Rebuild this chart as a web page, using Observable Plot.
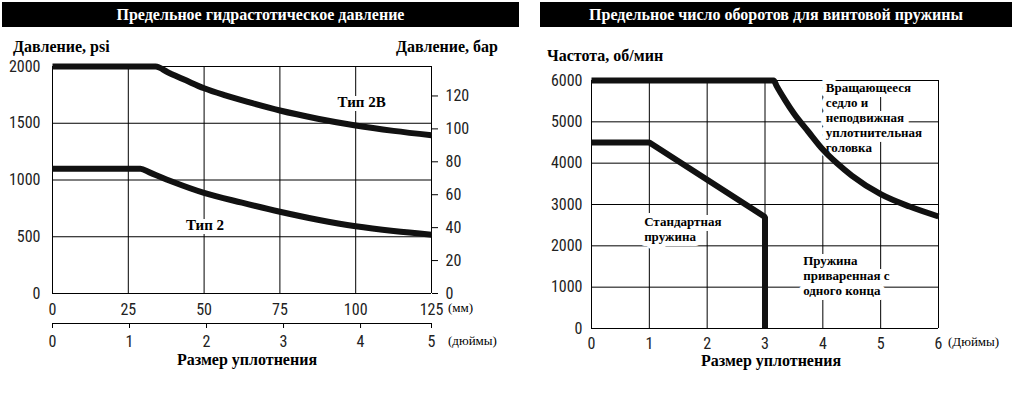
<!DOCTYPE html>
<html><head><meta charset="utf-8">
<script src="https://cdn.jsdelivr.net/npm/d3@7"></script>
<script src="https://cdn.jsdelivr.net/npm/@observablehq/plot@0.6"></script>
<style>
body{margin:0;width:1022px;height:396px;position:relative;background:#fff;overflow:hidden}
.abs{position:absolute}
.bar{background:#000;color:#fff;font:bold 16px "Liberation Serif","Times New Roman",serif;text-align:center;line-height:25px;height:25px}
.lab{font:bold 16px "Liberation Serif","Times New Roman",serif;color:#000;white-space:nowrap;line-height:18px}
.unit{font:13px "Liberation Serif","Times New Roman",serif;color:#000;white-space:nowrap;line-height:16px}
svg{overflow:visible}
</style></head>
<body>
<div class="bar abs" style="left:2px;top:2px;width:517px">Предельное гидрастотическое давление</div>
<div class="bar abs" style="left:540px;top:2px;width:472px">Предельное число оборотов для винтовой пружины</div>
<div class="lab abs" style="left:13px;top:38px">Давление, psi</div>
<div class="lab abs" style="left:396px;top:38px">Давление, бар</div>
<div class="lab abs" style="left:547px;top:47px">Частота, об/мин</div>
<div id="L" class="abs" style="left:0;top:55px"></div>
<div id="Li" class="abs" style="left:0;top:318px"></div>
<div id="R" class="abs" style="left:530px;top:70px"></div>
<div class="unit abs" style="left:448px;top:300px">(мм)</div>
<div class="unit abs" style="left:448px;top:333px">(дюймы)</div>
<div class="unit abs" style="left:948px;top:334px">(Дюймы)</div>
<div class="lab abs" style="left:147px;top:351px;width:200px;text-align:center">Размер уплотнения</div>
<div class="lab abs" style="left:671px;top:352px;width:200px;text-align:center">Размер уплотнения</div>
<script>
// ---- Left chart data ----
const mmTicks = [0, 25, 50, 75, 100, 125];
const psiTicks = [0, 500, 1000, 1500, 2000];
const barTicks = [0, 20, 40, 60, 80, 100, 120];
const inchTicksL = [0, 1, 2, 3, 4, 5];
const PSI_PER_BAR = 14.5038;
const MM_PER_INCH = 25.4;

const type2B_mm  = [0, 34, 38, 44, 50, 57, 65, 75, 87.5, 100, 112.5, 125];
const type2B_psi = [2000, 2000, 1950, 1878, 1808, 1745, 1683, 1612, 1540, 1480, 1433, 1395];
const type2_mm   = [0, 29, 32, 40, 50, 62.5, 75, 87.5, 100, 112.5, 125];
const type2_psi  = [1100, 1100, 1067, 980, 886, 800, 720, 650, 592, 550, 518];

const leftLabels = ["Тип 2B", "Тип 2"];
const leftLabelX = [94, 44];
const leftLabelY = [1683, 600];

// ---- Right chart data ----
const inchTicksR = [0, 1, 2, 3, 4, 5, 6];
const rpmTicks = [0, 1000, 2000, 3000, 4000, 5000, 6000];
const stdSpring_in  = [0, 1, 3, 3];
const stdSpring_rpm = [4500, 4500, 2700, 0];
const rotSeat_in  = [0, 3.15, 3.2, 3.35, 3.5, 3.75, 4.0, 4.25, 4.5, 5.0, 5.5, 6.0];
const rotSeat_rpm = [6000, 6000, 5870, 5520, 5200, 4760, 4330, 3990, 3700, 3250, 2950, 2710];

const rightLabels = ["Вращающееся\nседло и\nнеподвижная\nуплотнительная\nголовка", "Стандартная\nпружина", "Пружина\nприваренная с\nодного конца"];
const rightLabelX = [4.05, 0.91, 3.66];
const rightLabelY = [5975, 2730, 1790];

const numFont = '"Liberation Sans Narrow","Arial Narrow","Roboto Condensed",sans-serif';
const serif = '"Liberation Serif","Times New Roman",serif';
const fmt = d => String(Math.round(d));

const zip = (xs, ys) => xs.map((x, i) => ({x, y: ys[i]}));
const lineOpts = {x: "x", y: "y", stroke: "#111", strokeWidth: 6, strokeLinecap: "butt", strokeLinejoin: "miter", curve: "monotone-x"};

const left = Plot.plot({
  width: 520, height: 272,
  marginLeft: 52, marginRight: 89, marginTop: 11, marginBottom: 34,
  x: {domain: [0, 125]},
  y: {domain: [0, 2000]},
  style: {fontFamily: numFont, fontSize: "16px", color: "#222", background: "transparent", overflow: "visible"},
  marks: [
    Plot.ruleX(mmTicks, {stroke: "#000", strokeWidth: 1}),
    Plot.ruleY(psiTicks, {stroke: "#000", strokeWidth: 1}),
    Plot.axisY(psiTicks, {anchor: "left", tickSize: 0, tickPadding: 12, tickFormat: fmt, label: null, fill: "#222"}),
    Plot.axisY(barTicks.map(b => b * PSI_PER_BAR), {anchor: "right", tickSize: 6, tickPadding: 8, tickFormat: d => fmt(d / PSI_PER_BAR), label: null, fill: "#222", stroke: "#000"}),
    Plot.axisX(mmTicks, {anchor: "bottom", tickSize: 0, tickPadding: 10, tickFormat: fmt, label: null, fill: "#222"}),
    Plot.line(zip(type2_mm, type2_psi), lineOpts),
    Plot.line(zip(type2B_mm, type2B_psi), lineOpts),
    Plot.text(leftLabels, {x: (d, i) => leftLabelX[i], y: (d, i) => leftLabelY[i], text: d => d,
      textAnchor: "start", lineAnchor: "middle", fontFamily: serif, fontWeight: "bold", fontSize: 15,
      fill: "#000", stroke: "white", strokeWidth: 8})
  ]
});
document.getElementById("L").append(left);

const leftInch = Plot.plot({
  width: 520, height: 40,
  marginLeft: 52, marginRight: 89, marginTop: 4, marginBottom: 35,
  x: {domain: [0, 125], clamp: true},
  y: {domain: [0, 1], axis: null},
  style: {fontFamily: numFont, fontSize: "16px", color: "#222", background: "transparent", overflow: "visible"},
  marks: [
    Plot.ruleY([0], {stroke: "#000"}),
    Plot.axisX(inchTicksL.map(v => v * MM_PER_INCH), {anchor: "bottom", tickSize: 5, tickPadding: 7,
      tickFormat: d => fmt(d / MM_PER_INCH), label: null, fill: "#222", stroke: "#000"})
  ]
});
document.getElementById("Li").append(leftInch);

const right = Plot.plot({
  width: 492, height: 290,
  marginLeft: 61, marginRight: 84, marginTop: 10, marginBottom: 32,
  x: {domain: [0, 6]},
  y: {domain: [0, 6000]},
  style: {fontFamily: numFont, fontSize: "16px", color: "#222", background: "transparent", overflow: "visible"},
  marks: [
    Plot.ruleX(inchTicksR, {stroke: "#000", strokeWidth: 1}),
    Plot.ruleY(rpmTicks, {stroke: "#000", strokeWidth: 1}),
    Plot.axisY(rpmTicks, {anchor: "left", tickSize: 0, tickPadding: 9, tickFormat: fmt, label: null, fill: "#222"}),
    Plot.axisX(inchTicksR, {anchor: "bottom", tickSize: 0, tickPadding: 9, tickFormat: fmt, label: null, fill: "#222"}),
    Plot.text(rightLabels, {x: (d, i) => rightLabelX[i], y: (d, i) => rightLabelY[i], text: d => d,
      textAnchor: "start", lineAnchor: "top", lineHeight: 1.154, fontFamily: serif, fontWeight: "bold", fontSize: 13,
      fill: "#000", stroke: "white", strokeWidth: 10}),
    Plot.line(zip(stdSpring_in, stdSpring_rpm), {...lineOpts, curve: "linear"}),
    Plot.line(zip(rotSeat_in, rotSeat_rpm), lineOpts)
  ]
});
document.getElementById("R").append(right);
</script>
</body></html>
